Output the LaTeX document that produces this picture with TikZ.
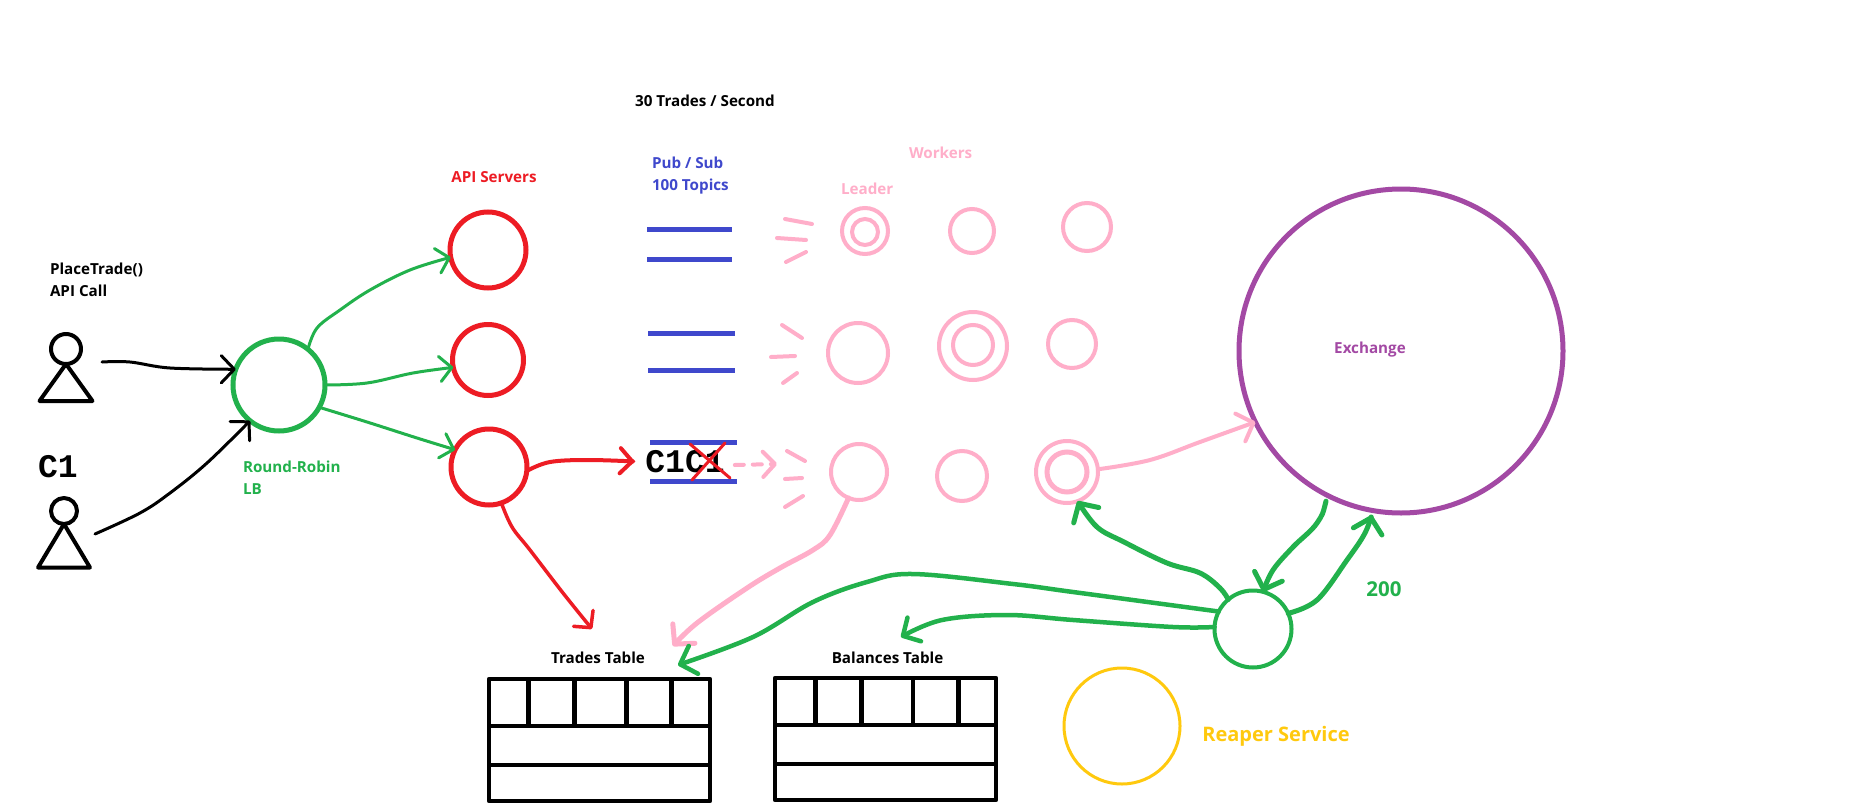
\documentclass[tikz,border=0pt]{standalone}
\usepackage{fontspec}
\setmainfont{Open Sans}
\newfontfamily\handfont{Liberation Mono}
\usetikzlibrary{arrows.meta}
\definecolor{cgreen}{HTML}{22B14C}
\definecolor{cred}{HTML}{ED1C24}
\definecolor{cblue}{HTML}{3F48CC}
\definecolor{cpink}{HTML}{FFAEC9}
\definecolor{cpurple}{HTML}{A349A4}
\definecolor{cyellow}{HTML}{FFC90E}
\tikzset{
  circ/.style={circle,draw,inner sep=0pt,outer sep=0pt,fill=none},
  lbl/.style={inner sep=0pt,outer sep=0pt,align=left,anchor=west,font=\bfseries\fontsize{15.2}{22.3}\selectfont},
  lblc/.style={lbl,anchor=center,align=center},
  conn/.style={line cap=round,line join=round},
  head/.style={-{Straight Barb[length=#1,width=2.1*#1,round]}},
  head/.default=11pt,
  bar/.style={cblue,line width=5pt},
  stroke/.style={cpink,line width=4pt,line cap=round},
  tbl/.style={black,line width=4.5pt,line join=round},
  person/.style={black,line width=4pt,line join=round,line cap=round},
}
\begin{document}
\begin{tikzpicture}[x=1pt,y=-1pt]
\useasboundingbox (0,0) rectangle (1869,811);
\fill[white] (0,0) rectangle (1869,811);

% labels
\node[lbl] (tplace) at (50,279.5) {PlaceTrade()\\API Call};
\node[lblc] (trate) at (705,100.5) {30 Trades / Second};
\node[lblc,text=cred] (tapi) at (494,177.5) {API Servers};
\node[lbl,text=cblue] (tpub) at (652,175.5) {Pub / Sub\\100 Topics};
\node[lbl,text=cpink] (twork) at (909,153) {Workers};
\node[lbl,text=cpink] (tlead) at (841,189) {Leader};
\node[lbl,text=cgreen] (tlb) at (243,478) {Round-Robin\\LB};
\node[lblc,text=cpurple] (tex) at (1370,349.5) {Exchange};
\node[lblc,text=cgreen,font=\bfseries\fontsize{20.5}{22}\selectfont] (t200) at (1384,589) {200};
\node[lblc,text=cyellow,font=\bfseries\fontsize{20}{22}\selectfont] (treap) at (1276,736) {Reaper Service};
\node[lblc] (ttrades) at (598,657.5) {Trades Table};
\node[lblc] (tbal) at (887.5,657.5) {Balances Table};
\node[inner sep=0pt,font=\handfont\bfseries\fontsize{33}{33}\selectfont] (tc1) at (58,467) {C1};
\node[inner sep=0pt,font=\handfont\bfseries\fontsize{33}{33}\selectfont] (tq) at (685,462) {C1C1};

% people
\node[circ,person,minimum size=30pt] (h1) at (66,349) {};
\draw[person] (h1.south) -- (39.5,401) -- (92.5,401) -- cycle;
\node[circ,person,minimum size=26pt] (h2) at (64,511) {};
\draw[person] (h2.south) -- (38,567.5) -- (90,567.5) -- cycle;
\coordinate (p1) at (102,362);
\coordinate (p2) at (95,534);

% servers
\node[circ,cgreen,line width=5pt,minimum size=92pt] (lb) at (279,385) {};
\node[circ,cred,line width=5pt,minimum size=76pt] (s1) at (488,250) {};
\node[circ,cred,line width=5pt,minimum size=71pt] (s2) at (488,360) {};
\node[circ,cred,line width=5pt,minimum size=76pt] (s3) at (489,467) {};

% pub/sub bars
\draw[bar] (647,229) -- (732,229);
\draw[bar] (647,259) -- (732,259);
\draw[bar] (648,333) -- (735,333);
\draw[bar] (648,370) -- (735,370);
\draw[bar] (650,442) -- (737,442);
\draw[bar] (650,481) -- (737,481);
\draw[cred,line width=3pt,line cap=round] (690,444) -- (730,478);
\draw[cred,line width=3pt,line cap=round] (725,443) -- (692,480);

% pink strokes
\draw[stroke] (785,219) -- (812,224);
\draw[stroke] (777,238) -- (806,240);
\draw[stroke] (786,262) -- (806,252);
\draw[stroke] (782,325) -- (802,338);
\draw[stroke] (771,357) -- (795,356);
\draw[stroke] (783,383) -- (797,373);
\draw[stroke] (787,451) -- (805,461);
\draw[stroke] (785,479) -- (802,478);
\draw[stroke] (785,507) -- (803,496);

% workers
\tikzset{wk/.style={circ,cpink,line width=4pt}}
\node[wk,minimum size=46pt] (w11) at (865,231) {};
\node[wk,minimum size=26pt] (w11i) at (865,232) {};
\node[wk,minimum size=44pt] (w12) at (972,231) {};
\node[wk,minimum size=48pt] (w13) at (1087,227) {};
\node[wk,minimum size=60pt] (w21) at (858,353) {};
\node[wk,minimum size=68pt] (w22) at (973,346) {};
\node[wk,minimum size=40pt] (w22i) at (973,345) {};
\node[wk,minimum size=48pt] (w23) at (1072,344) {};
\node[wk,minimum size=56pt] (w31) at (859,472) {};
\node[wk,minimum size=50pt] (w32) at (962,476) {};
\node[wk,minimum size=62pt] (w33) at (1067,472) {};
\node[wk,line width=5pt,minimum size=40pt] (w33i) at (1067,472) {};

% big circles
\node[circ,cpurple,line width=5pt,minimum size=324pt] (ex) at (1401,351) {};
\node[circ,cgreen,line width=4pt,minimum size=77pt] (rp) at (1253,629) {};
\node[circ,cyellow,line width=3pt,minimum size=116pt] (yc) at (1122,726) {};

% tables
\foreach \n/\xa/\xb/\ya/\yb/\yc/\yd/\va/\vb/\vc/\vd in {t/489/710/679/726/765/801/528.6/574.6/626.4/671.4, b/775/996/678/725/764/800/815.4/861.4/913/958.6}{
  \draw[tbl] (\xa,\ya) rectangle (\xb,\yd);
  \draw[tbl] (\xa,\yb) -- (\xb,\yb);
  \draw[tbl] (\xa,\yc) -- (\xb,\yc);
  \foreach \v in {\va,\vb,\vc,\vd} \draw[tbl] (\v,\ya) -- (\v,\yb);
}
\coordinate (ttop) at (678,665);
\coordinate (ttop2) at (673,646);
\coordinate (ttop3) at (592,629);
\coordinate (btop) at (901,637);
\coordinate (dq) at (777,464);

% connectors
\draw[conn,black,line width=3pt,head=13pt] plot[smooth,tension=.6] coordinates {(p1) (130,362) (170,368) (lb.160)};
\draw[conn,black,line width=3pt,head=13pt] plot[smooth,tension=.6] coordinates {(p2) (140,513) (170,493) (207,463) (lb.231)};
\draw[conn,cgreen,line width=3pt,head=12pt] plot[smooth,tension=.6] coordinates {(lb.51) (317,328) (340,310) (370,290) (410,270) (s1.191)};
\draw[conn,cgreen,line width=3pt,head=12pt] plot[smooth,tension=.6] coordinates {(lb.0) (367,383) (413,373) (s2.192)};
\draw[conn,cgreen,line width=3pt,head=12pt] plot[smooth,tension=.6] coordinates {(lb.-29) (367,422) (417,438) (s3.153)};
\draw[conn,cred,line width=4pt,head=12pt,shorten >=11pt] plot[smooth,tension=.6] coordinates {(s3.-6) (550,462) (590,460) (tq.west)};
\draw[conn,cred,line width=3.5pt,head=12pt] plot[smooth,tension=.6] coordinates {(s3.-71) (512,527) (530,550) (563,593) (ttop3)};
\draw[conn,cpink,line width=4pt,dash pattern=on 9pt off 9pt,head=12pt] (tq.east) ++(10,3) -- (dq);
\draw[conn,cpink,line width=5pt,head=14pt] plot[smooth,tension=.6] coordinates {(w31.-112) (830,535) (813,550) (780,568) (747,588) (697,623) (ttop2)};
\draw[conn,cpink,line width=4pt,head=14pt] plot[smooth,tension=.6] coordinates {(w33.5) (1150,460) (1200,442) (ex.206)};
\draw[conn,cgreen,line width=5pt,head=14pt] plot[smooth,tension=.6] coordinates {(rp.130) (1220,588) (1200,573) (1167,563) (1124,542) (1097,527) (w33.-70)};
\draw[conn,cgreen,line width=4.5pt,head=14pt] plot[smooth,tension=.6] coordinates {(rp.153) (1073,592) (1013,584) (913,574) (867,582) (813,602) (753,637) (ttop)};
\draw[conn,cgreen,line width=4.5pt,head=13pt] plot[smooth,tension=.6] coordinates {(rp.177) (1173,627) (1073,620) (1007,615) (942,620) (btop)};
\draw[conn,cgreen,line width=5pt,head=14pt,shorten <=6pt] plot[smooth,tension=.6] coordinates {(ex.243) (1317,523) (1293,547) (1273,570) (rp.75)};
\draw[conn,cgreen,line width=5pt,head=14pt,shorten >=5pt] plot[smooth,tension=.6] coordinates {(rp.24) (1317,600) (1347,560) (1365,533) (ex.260)};
\end{tikzpicture}
\end{document}
